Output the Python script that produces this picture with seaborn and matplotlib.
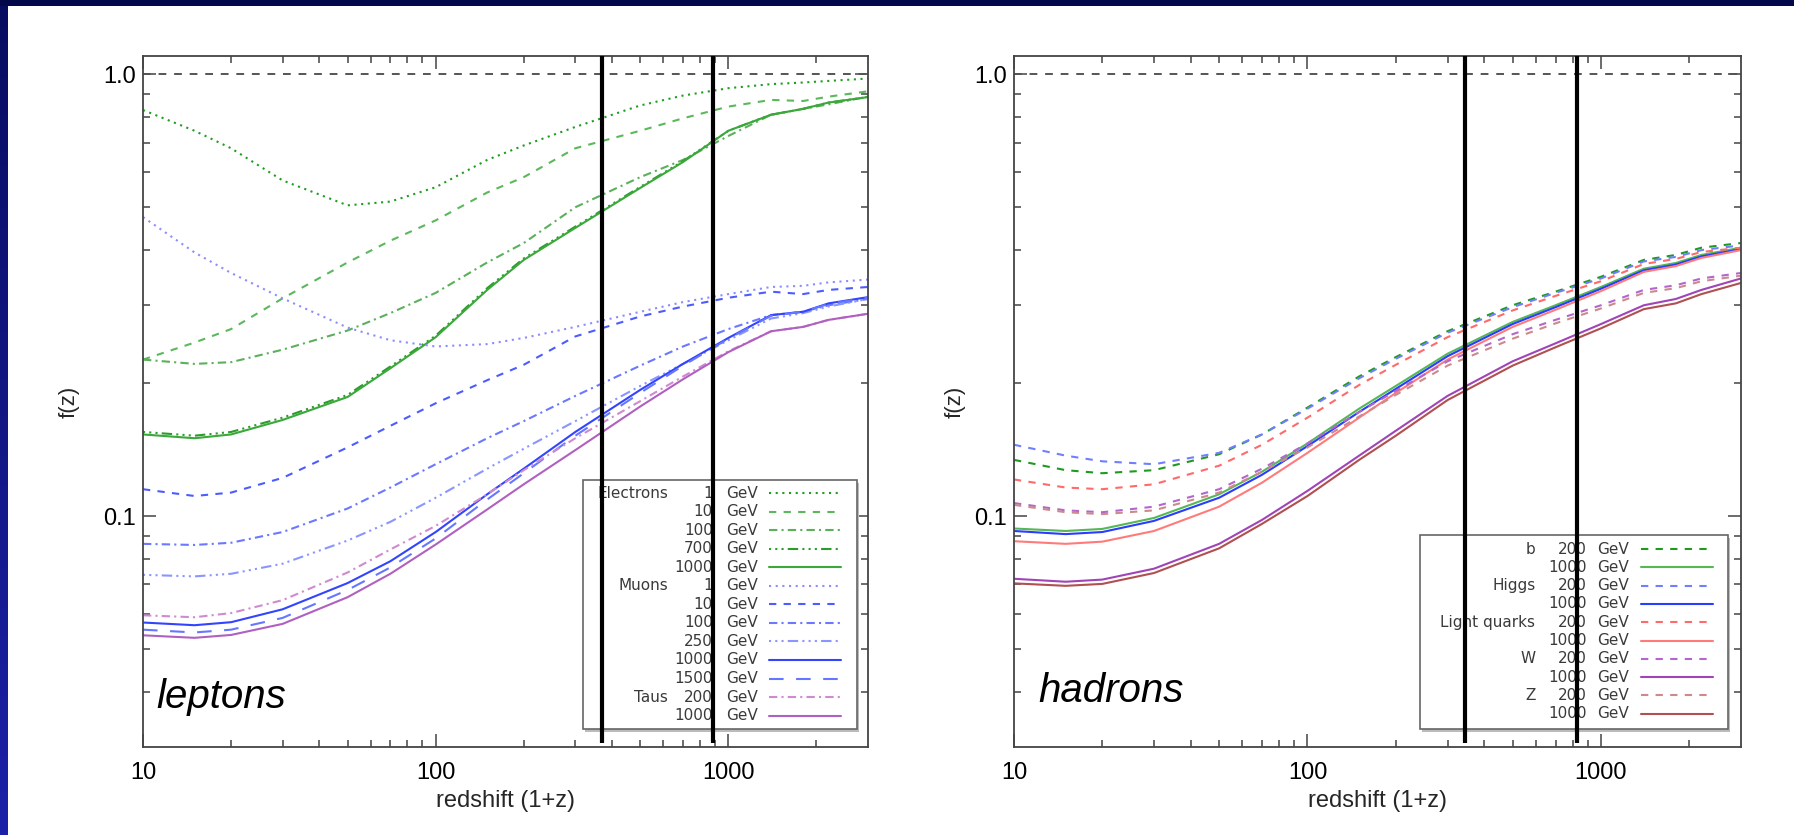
import numpy as np
import pandas as pd
import matplotlib
matplotlib.use("Agg")
import matplotlib.pyplot as plt
import seaborn as sns
from matplotlib.patches import Rectangle
from matplotlib.lines import Line2D
from matplotlib.ticker import FixedLocator, FixedFormatter, NullFormatter

# ---------------- data ----------------
X = [10, 15, 20, 30, 50, 70, 100, 150, 200, 300, 500, 700, 1000, 1400, 1800, 2200, 3000]

# leptons
e_1    = [0.83, 0.745, 0.68, 0.575, 0.505, 0.515, 0.555, 0.64, 0.69, 0.76, 0.85, 0.895, 0.93, 0.95, 0.958, 0.966, 0.978]
e_10   = [0.226, 0.247, 0.265, 0.311, 0.375, 0.42, 0.467, 0.54, 0.585, 0.68, 0.745, 0.795, 0.845, 0.875, 0.87, 0.89, 0.915]
e_100  = [0.226, 0.221, 0.223, 0.238, 0.263, 0.288, 0.32, 0.375, 0.415, 0.50, 0.585, 0.64, 0.725, 0.81, 0.835, 0.855, 0.89]
e_700  = [0.155, 0.152, 0.155, 0.167, 0.188, 0.218, 0.256, 0.328, 0.383, 0.452, 0.556, 0.636, 0.745, 0.81, 0.835, 0.863, 0.888]
e_1000 = [0.153, 0.150, 0.153, 0.165, 0.186, 0.216, 0.254, 0.325, 0.38, 0.449, 0.553, 0.633, 0.745, 0.81, 0.835, 0.863, 0.888]
m_1    = [0.475, 0.395, 0.355, 0.311, 0.267, 0.25, 0.242, 0.245, 0.253, 0.268, 0.29, 0.305, 0.318, 0.33, 0.332, 0.338, 0.343]
m_10   = [0.115, 0.111, 0.113, 0.122, 0.143, 0.16, 0.18, 0.203, 0.22, 0.255, 0.283, 0.298, 0.312, 0.322, 0.318, 0.325, 0.33]
m_100  = [0.0865, 0.086, 0.087, 0.092, 0.104, 0.116, 0.131, 0.150, 0.164, 0.187, 0.219, 0.242, 0.265, 0.285, 0.29, 0.30, 0.31]
m_250  = [0.0736, 0.073, 0.074, 0.078, 0.088, 0.097, 0.110, 0.128, 0.142, 0.164, 0.197, 0.221, 0.25, 0.28, 0.288, 0.298, 0.31]
m_1000 = [0.0574, 0.0566, 0.0575, 0.0615, 0.0705, 0.079, 0.092, 0.112, 0.128, 0.155, 0.193, 0.221, 0.253, 0.285, 0.29, 0.303, 0.313]
m_1500 = [0.0553, 0.0545, 0.0553, 0.0588, 0.068, 0.0765, 0.089, 0.109, 0.125, 0.152, 0.19, 0.219, 0.252, 0.284, 0.29, 0.302, 0.312]
t_200  = [0.0596, 0.059, 0.0603, 0.0645, 0.0745, 0.084, 0.095, 0.112, 0.127, 0.150, 0.182, 0.207, 0.236, 0.262, 0.268, 0.278, 0.287]
t_1000 = [0.0537, 0.053, 0.0538, 0.057, 0.0655, 0.074, 0.0862, 0.1035, 0.118, 0.141, 0.177, 0.204, 0.235, 0.262, 0.268, 0.278, 0.287]

# hadrons
b_200   = [0.134, 0.127, 0.125, 0.127, 0.138, 0.153, 0.176, 0.207, 0.229, 0.262, 0.30, 0.322, 0.348, 0.38, 0.39, 0.405, 0.415]
b_1000  = [0.0937, 0.0925, 0.0935, 0.099, 0.112, 0.126, 0.146, 0.175, 0.197, 0.233, 0.275, 0.30, 0.33, 0.363, 0.374, 0.39, 0.405]
h_200   = [0.145, 0.137, 0.133, 0.131, 0.139, 0.153, 0.175, 0.205, 0.227, 0.26, 0.297, 0.32, 0.345, 0.377, 0.386, 0.40, 0.41]
h_1000  = [0.0925, 0.091, 0.092, 0.0975, 0.110, 0.124, 0.144, 0.172, 0.194, 0.23, 0.272, 0.297, 0.327, 0.36, 0.371, 0.387, 0.402]
lq_200  = [0.121, 0.116, 0.115, 0.118, 0.130, 0.145, 0.167, 0.198, 0.22, 0.254, 0.292, 0.315, 0.34, 0.372, 0.382, 0.396, 0.405]
lq_1000 = [0.0877, 0.0865, 0.0875, 0.0925, 0.105, 0.119, 0.139, 0.167, 0.19, 0.226, 0.268, 0.293, 0.323, 0.357, 0.368, 0.384, 0.40]
w_200   = [0.107, 0.103, 0.102, 0.105, 0.115, 0.128, 0.146, 0.172, 0.192, 0.224, 0.258, 0.278, 0.30, 0.325, 0.333, 0.345, 0.355]
w_1000  = [0.0721, 0.071, 0.0718, 0.076, 0.0865, 0.098, 0.114, 0.137, 0.156, 0.187, 0.224, 0.246, 0.272, 0.30, 0.31, 0.325, 0.345]
z_200   = [0.106, 0.102, 0.101, 0.103, 0.113, 0.126, 0.143, 0.168, 0.188, 0.219, 0.252, 0.273, 0.295, 0.32, 0.328, 0.34, 0.35]
z_1000  = [0.0704, 0.0695, 0.0702, 0.0743, 0.0845, 0.096, 0.111, 0.134, 0.152, 0.183, 0.219, 0.241, 0.266, 0.294, 0.303, 0.318, 0.337]

lep_groups   = ["Electrons", "", "", "", "", "Muons", "", "", "", "", "", "Taus", ""]
lep_energies = ["1", "10", "100", "700", "1000", "1", "10", "100", "250", "1000", "1500", "200", "1000"]
had_groups   = ["b", "", "Higgs", "", "Light quarks", "", "W", "", "Z", ""]
had_energies = ["200", "1000", "200", "1000", "200", "1000", "200", "1000", "200", "1000"]

lep_vlines = [369, 889]
had_vlines = [345, 828]

x_ticks = [10, 100, 1000]
x_ticklabels = ["10", "100", "1000"]
y_ticks = [0.1, 1.0]
y_ticklabels = ["0.1", "1.0"]

# ---------------- styles ----------------
DOT = (0, (1, 2.2))
DASH = (0, (3.5, 3.5))
DASHDOT = (0, (4, 2, 1, 2))
DASHDOT3 = (0, (1, 2, 1, 2, 1, 2, 5, 2))
LONGDASH = (0, (7, 6))
SOLID = "-"

lep_series = [e_1, e_10, e_100, e_700, e_1000, m_1, m_10, m_100, m_250, m_1000, m_1500, t_200, t_1000]
lep_colors = ["#1e9e1e", "#5cb85c", "#5cb05c", "#2a9d2a", "#3aa83a",
              "#8c8cff", "#4d5cff", "#6b78ff", "#8a95ff", "#3344ff", "#6677ff",
              "#d08ad0", "#b060c0"]
lep_styles = [DOT, DASH, DASHDOT, DASHDOT3, SOLID,
              DOT, DASH, DASHDOT, DASHDOT3, SOLID, LONGDASH,
              DASHDOT, SOLID]

had_series = [b_200, b_1000, h_200, h_1000, lq_200, lq_1000, w_200, w_1000, z_200, z_1000]
had_colors = ["#1f9a1f", "#55b855", "#6f7fff", "#2a3cff", "#ff6a6a", "#ff7b7b",
              "#b366cc", "#a044b8", "#cc8a8a", "#b05050"]
had_styles = [DASH, SOLID] * 5

# ---------------- figure ----------------
sns.set_style("ticks")
plt.rcParams["font.family"] = ["Liberation Sans", "DejaVu Sans"]

W, H = 1794, 835
fig = plt.figure(figsize=(W / 100, H / 100), dpi=100)
fig.patch.set_facecolor("white")

# dark frame bands
band = fig.add_axes([0, 0, 8 / W, 1])
grad = np.linspace(0, 1, 256).reshape(-1, 1)
band.imshow(grad, aspect="auto", cmap=matplotlib.colors.LinearSegmentedColormap.from_list(
    "b", ["#080c60", "#1c22a8"]), extent=[0, 1, 0, 1], origin="upper")
band.axis("off")
fig.patches.append(Rectangle((0, 1 - 6 / H), 1, 6 / H, transform=fig.transFigure,
                             facecolor="#030848", edgecolor="none", zorder=10))

def px_axes(l, r, t, b):
    return [l / W, (H - b) / H, (r - l) / W, (b - t) / H]

ax1 = fig.add_axes(px_axes(143, 868, 56, 747))
ax2 = fig.add_axes(px_axes(1014, 1741, 56, 747))

XMIN, XMAX, YMIN, YMAX = 10, 3000, 0.03, 1.1


def style_axes(ax, ylab_x):
    ax.set_xscale("log")
    ax.set_yscale("log")
    ax.set_xlim(XMIN, XMAX)
    ax.set_ylim(YMIN, YMAX)
    ax.xaxis.set_major_locator(FixedLocator(x_ticks))
    ax.xaxis.set_major_formatter(FixedFormatter(x_ticklabels))
    ax.xaxis.set_minor_locator(FixedLocator([20, 30, 40, 50, 60, 70, 80, 90,
                                             200, 300, 400, 500, 600, 700, 800, 900, 2000]))
    ax.xaxis.set_minor_formatter(NullFormatter())
    ax.yaxis.set_major_locator(FixedLocator(y_ticks))
    ax.yaxis.set_major_formatter(FixedFormatter(y_ticklabels))
    ax.yaxis.set_minor_locator(FixedLocator([0.04, 0.05, 0.06, 0.07, 0.08, 0.09,
                                             0.2, 0.3, 0.4, 0.5, 0.6, 0.7, 0.8, 0.9]))
    ax.yaxis.set_minor_formatter(NullFormatter())
    ax.tick_params(which="both", direction="in", top=True, right=True,
                   color="#444444", width=1.1)
    ax.tick_params(which="major", length=9.5, labelsize=17, labelcolor="black")
    ax.tick_params(axis="x", which="major", pad=11)
    ax.tick_params(axis="y", which="major", pad=5)
    ax.tick_params(which="minor", length=4.8)
    for s in ax.spines.values():
        s.set_color("#444444")
        s.set_linewidth(1.3)
    ax.set_xlabel("redshift (1+z)", fontsize=17)
    ax.xaxis.set_label_coords(0.5, -0.062)
    ax.set_ylabel("f(z)", fontsize=16)
    ax.yaxis.set_label_coords(ylab_x, 0.5)
    ax.axhline(1.0, color="#555555", lw=1.4, ls=(0, (4, 4)), zorder=1)


def draw_curves(ax, series, colors, styles):
    for vals, c, ls in zip(series, colors, styles):
        df = pd.DataFrame({"x": X, "f": vals})
        sns.lineplot(data=df, x="x", y="f", ax=ax, color=c, linestyle=ls,
                     linewidth=1.5, estimator=None, legend=False, zorder=2)


def draw_legend(ax, box, groups, energies, colors, styles, y0, dy,
                xg, xn, xgev, xl0, xl1):
    x0, y_b, x1, y_t = box
    ax.add_patch(Rectangle((x0 + 0.003, y_b - 0.004), x1 - x0, y_t - y_b,
                           transform=ax.transAxes, facecolor="#bbbbbb",
                           edgecolor="none", zorder=4))
    ax.add_patch(Rectangle((x0, y_b), x1 - x0, y_t - y_b, transform=ax.transAxes,
                           facecolor="white", edgecolor="#666666", lw=1.2, zorder=5))
    tk = dict(transform=ax.transAxes, fontsize=11, color="#3a3a3a", va="center",
              family=["DejaVu Sans"], zorder=6)
    for i, (g, e, c, ls) in enumerate(zip(groups, energies, colors, styles)):
        y = y0 - i * dy
        if g:
            ax.text(xg, y, g, ha="right", **tk)
        ax.text(xn, y, e, ha="right", **tk)
        ax.text(xgev, y, "GeV", ha="left", **tk)
        ax.add_line(Line2D([xl0, xl1], [y, y], transform=ax.transAxes,
                           color=c, ls=ls, lw=1.5, zorder=6))


style_axes(ax1, -0.088)
style_axes(ax2, -0.067)

draw_curves(ax1, lep_series, lep_colors, lep_styles)
draw_curves(ax2, had_series, had_colors, had_styles)

# legends (positions in axes fractions)
draw_legend(ax1, (0.607, 0.026, 0.985, 0.386), lep_groups, lep_energies,
            lep_colors, lep_styles, (747 - 493) / 691, 18.55 / 691,
            0.724, 0.786, 0.804, 0.863, 0.963)
draw_legend(ax2, (0.558, 0.026, 0.982, 0.307), had_groups, had_energies,
            had_colors, had_styles, (747 - 549) / 691, 18.3 / 691,
            0.717, 0.788, 0.802, 0.862, 0.961)

# vertical markers
ax1.vlines(lep_vlines, 0.0307, YMAX, color="black", lw=3.0, zorder=8)
ax2.vlines(had_vlines, 0.0307, YMAX, color="black", lw=3.0, zorder=8)

ax1.text(0.019, 0.056, "leptons", transform=ax1.transAxes, fontsize=29,
         style="italic", color="black", ha="left", va="baseline", zorder=9)
ax2.text(0.034, 0.065, "hadrons", transform=ax2.transAxes, fontsize=29,
         style="italic", color="black", ha="left", va="baseline", zorder=9)

fig.savefig("out.png", dpi=100, facecolor="white")
